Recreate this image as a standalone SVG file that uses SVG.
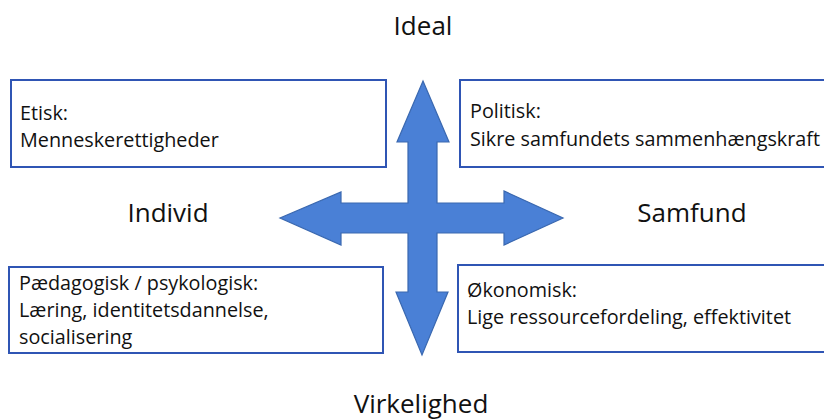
<svg xmlns="http://www.w3.org/2000/svg" width="824" height="420" viewBox="0 0 824 420">
<style>
.box{fill:#fff;stroke:#2f55b4;stroke-width:2}
.t{font-family:"Open Sans","Liberation Sans",Arial,sans-serif;font-size:19.8px;fill:#111}
.h{font-family:"Open Sans","Liberation Sans",Arial,sans-serif;font-size:26px;fill:#111}
.arrow{fill:#4a80d6;stroke:#3a68b0;stroke-width:1.2}
</style>
<rect width="824" height="420" fill="#fff"/>
<g id="connectors">
<polygon class="arrow" points="423,81 449,142 437,142 437,203 504,203 504,191 563,218 504,245 504,233 437,233 437,292 448,292 422,355 396,292 408,292 408,233 341,233 341,245 280,218 341,192 341,203 408,203 408,142 397,142"/>
</g>
<g id="ideal"><text class="h" x="423" y="35" text-anchor="middle">Ideal</text></g>
<g id="individ"><text class="h" x="168" y="222" text-anchor="middle">Individ</text></g>
<g id="samfund"><text class="h" x="692" y="222" text-anchor="middle">Samfund</text></g>
<g id="virkelighed"><text class="h" x="421" y="413" text-anchor="middle">Virkelighed</text></g>
<g id="etisk">
<rect class="box" x="11" y="80" width="375" height="87"/>
<text class="t" x="20" y="120">Etisk:</text>
<text class="t" x="20" y="147">Menneskerettigheder</text>
</g>
<g id="politisk">
<rect class="box" x="460" y="80" width="380" height="87"/>
<text class="t" x="470" y="118">Politisk:</text>
<text class="t" x="470" y="146">Sikre samfundets sammenhængskraft</text>
</g>
<g id="paedagogisk">
<rect class="box" x="9" y="267" width="374" height="86"/>
<text class="t" x="19" y="290">Pædagogisk / psykologisk:</text>
<text class="t" x="19" y="317">Læring, identitetsdannelse,</text>
<text class="t" x="19" y="344">socialisering</text>
</g>
<g id="oekonomisk">
<rect class="box" x="458" y="265" width="380" height="87"/>
<text class="t" x="467" y="297">Økonomisk:</text>
<text class="t" x="467" y="324">Lige ressourcefordeling, effektivitet</text>
</g>
</svg>
